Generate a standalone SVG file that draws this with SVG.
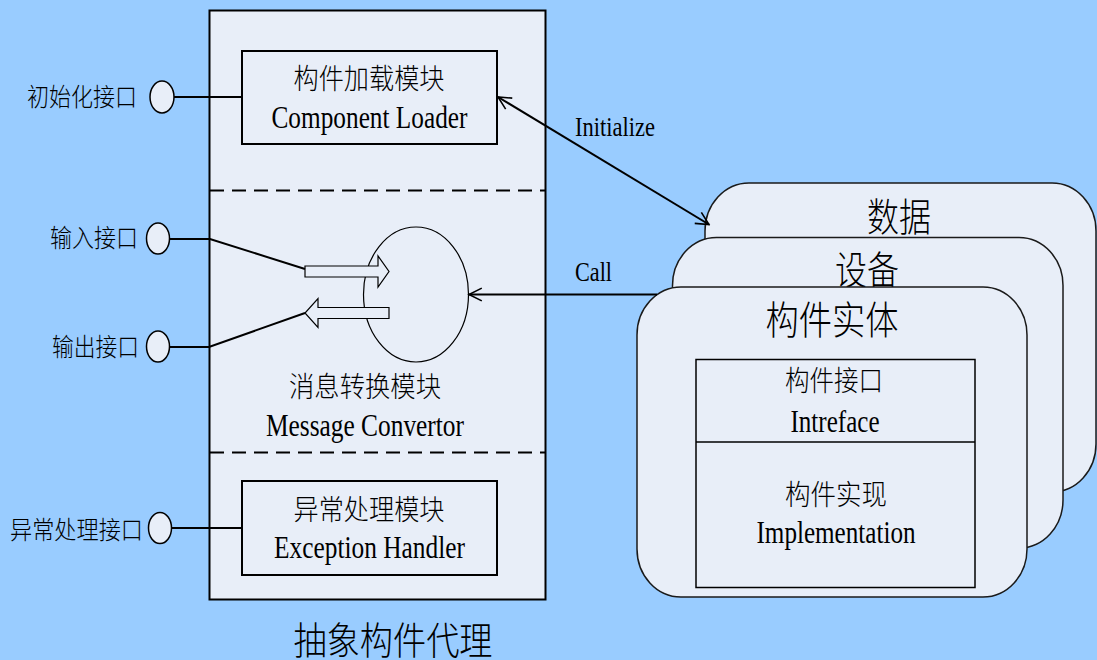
<svg xmlns="http://www.w3.org/2000/svg" width="1097" height="660" viewBox="0 0 1097 660">
<defs>
<style>
.bg{fill:#99CCFF}
.box{fill:#E8EEF8;stroke:#000;stroke-width:2}
.thin{fill:#E8EEF8;stroke:#000;stroke-width:1.2}
.rbox{fill:#E8EEF8;stroke:#1a1a1a;stroke-width:1.5}
.port{fill:#E8EEF8;stroke:#000;stroke-width:1.5}
.dash{stroke:#000;stroke-width:2;stroke-dasharray:14 8;fill:none}
.ln{stroke:#000;stroke-width:2;fill:none}
.lat{font-family:"Liberation Serif","Times New Roman",serif;fill:#000}
.cjk{font-family:"Liberation Serif","Noto Sans CJK SC",serif;font-weight:300;fill:#000}
</style>
<marker id="open" viewBox="0 0 20 20" refX="18" refY="10" markerWidth="16" markerHeight="16" markerUnits="userSpaceOnUse" orient="auto-start-reverse">
<path d="M2,2 L18,10 L2,18" fill="none" stroke="#000" stroke-width="2"/>
</marker>
</defs>
<rect class="bg" x="0" y="0" width="1097" height="660"/>

<g id="agent">
<rect class="box" x="209.5" y="10.5" width="336" height="589"/>
<line class="dash" x1="210" y1="190.5" x2="545" y2="190.5"/>
<line class="dash" x1="210" y1="452.5" x2="545" y2="452.5"/>
<text class="cjk" x="393" y="654" font-size="38" text-anchor="middle" textLength="199" lengthAdjust="spacingAndGlyphs">抽象构件代理</text>
</g>

<g id="loader">
<rect class="box" x="242" y="51" width="255" height="93"/>
<text class="cjk" x="369" y="89" font-size="28" text-anchor="middle" textLength="151" lengthAdjust="spacingAndGlyphs">构件加载模块</text>
<text class="lat" x="369.5" y="128" font-size="32" text-anchor="middle" textLength="196" lengthAdjust="spacingAndGlyphs">Component Loader</text>
</g>

<g id="convertor">
<ellipse class="thin" cx="416" cy="294.5" rx="52.5" ry="67.5"/>
<polygon class="thin" points="305,266 378,266 378,256 389,271.5 378,287 378,277 305,277"/>
<polygon class="thin" points="389,307.5 318,307.5 318,298.5 305,313 318,327.5 318,318.5 389,318.5"/>
<text class="cjk" x="365" y="397" font-size="28" text-anchor="middle" textLength="152" lengthAdjust="spacingAndGlyphs">消息转换模块</text>
<text class="lat" x="365" y="436" font-size="32" text-anchor="middle" textLength="198" lengthAdjust="spacingAndGlyphs">Message Convertor</text>
</g>

<g id="handler">
<rect class="box" x="242" y="481" width="255" height="94"/>
<text class="cjk" x="369" y="520" font-size="28" text-anchor="middle" textLength="151" lengthAdjust="spacingAndGlyphs">异常处理模块</text>
<text class="lat" x="369.5" y="558" font-size="32" text-anchor="middle" textLength="191" lengthAdjust="spacingAndGlyphs">Exception Handler</text>
</g>

<g id="port-init">
<ellipse class="port" cx="162" cy="97" rx="12" ry="16"/>
<text class="cjk" x="27" y="106" font-size="25" textLength="110" lengthAdjust="spacingAndGlyphs">初始化接口</text>
</g>
<g id="port-in">
<ellipse class="port" cx="158" cy="238.5" rx="11.5" ry="15.5"/>
<text class="cjk" x="50" y="247" font-size="25" textLength="88" lengthAdjust="spacingAndGlyphs">输入接口</text>
</g>
<g id="port-out">
<ellipse class="port" cx="158" cy="346.5" rx="11.5" ry="15.5"/>
<text class="cjk" x="52" y="356" font-size="25" textLength="87" lengthAdjust="spacingAndGlyphs">输出接口</text>
</g>
<g id="port-exc">
<ellipse class="port" cx="160" cy="528" rx="11.5" ry="15.5"/>
<text class="cjk" x="10" y="539" font-size="25" textLength="133" lengthAdjust="spacingAndGlyphs">异常处理接口</text>
</g>

<g id="data">
<rect class="rbox" x="705" y="183" width="391" height="309" rx="44" ry="48"/>
<text class="cjk" x="899" y="231" font-size="39" text-anchor="middle" textLength="64" lengthAdjust="spacingAndGlyphs">数据</text>
</g>
<g id="device">
<rect class="rbox" x="672.5" y="237.5" width="390.5" height="310.5" rx="44" ry="48"/>
<text class="cjk" x="867" y="284" font-size="39" text-anchor="middle" textLength="64" lengthAdjust="spacingAndGlyphs">设备</text>
</g>
<g id="entity">
<rect class="rbox" x="637" y="287" width="390" height="310" rx="44" ry="48"/>
<text class="cjk" x="832" y="334" font-size="39" text-anchor="middle" textLength="133" lengthAdjust="spacingAndGlyphs">构件实体</text>
<rect fill="#E8EEF8" stroke="#000" stroke-width="1.5" x="696" y="359.5" width="279" height="228"/>
<line stroke="#000" stroke-width="1.5" x1="696" y1="442" x2="975" y2="442"/>
<text class="cjk" x="834" y="391" font-size="28" text-anchor="middle" textLength="98" lengthAdjust="spacingAndGlyphs">构件接口</text>
<text class="lat" x="835" y="432" font-size="31" text-anchor="middle" textLength="89" lengthAdjust="spacingAndGlyphs">Intreface</text>
<text class="cjk" x="836" y="505" font-size="28" text-anchor="middle" textLength="102" lengthAdjust="spacingAndGlyphs">构件实现</text>
<text class="lat" x="836" y="543" font-size="31" text-anchor="middle" textLength="159" lengthAdjust="spacingAndGlyphs">Implementation</text>
</g>

<g id="connectors">
<line class="ln" x1="174" y1="97" x2="242" y2="97"/>
<polyline class="ln" points="169.5,239 210,239 305,269"/>
<polyline class="ln" points="169.5,347 209,347 305,313"/>
<line class="ln" x1="171.5" y1="528" x2="242" y2="528"/>
<line class="ln" x1="498" y1="97" x2="709" y2="224.5" marker-start="url(#open)" marker-end="url(#open)"/>
<line class="ln" x1="657" y1="294.5" x2="469" y2="294.5" marker-end="url(#open)"/>
<text class="lat" x="575" y="136" font-size="28" textLength="80" lengthAdjust="spacingAndGlyphs">Initialize</text>
<text class="lat" x="575" y="281" font-size="28" textLength="37" lengthAdjust="spacingAndGlyphs">Call</text>
</g>
</svg>
